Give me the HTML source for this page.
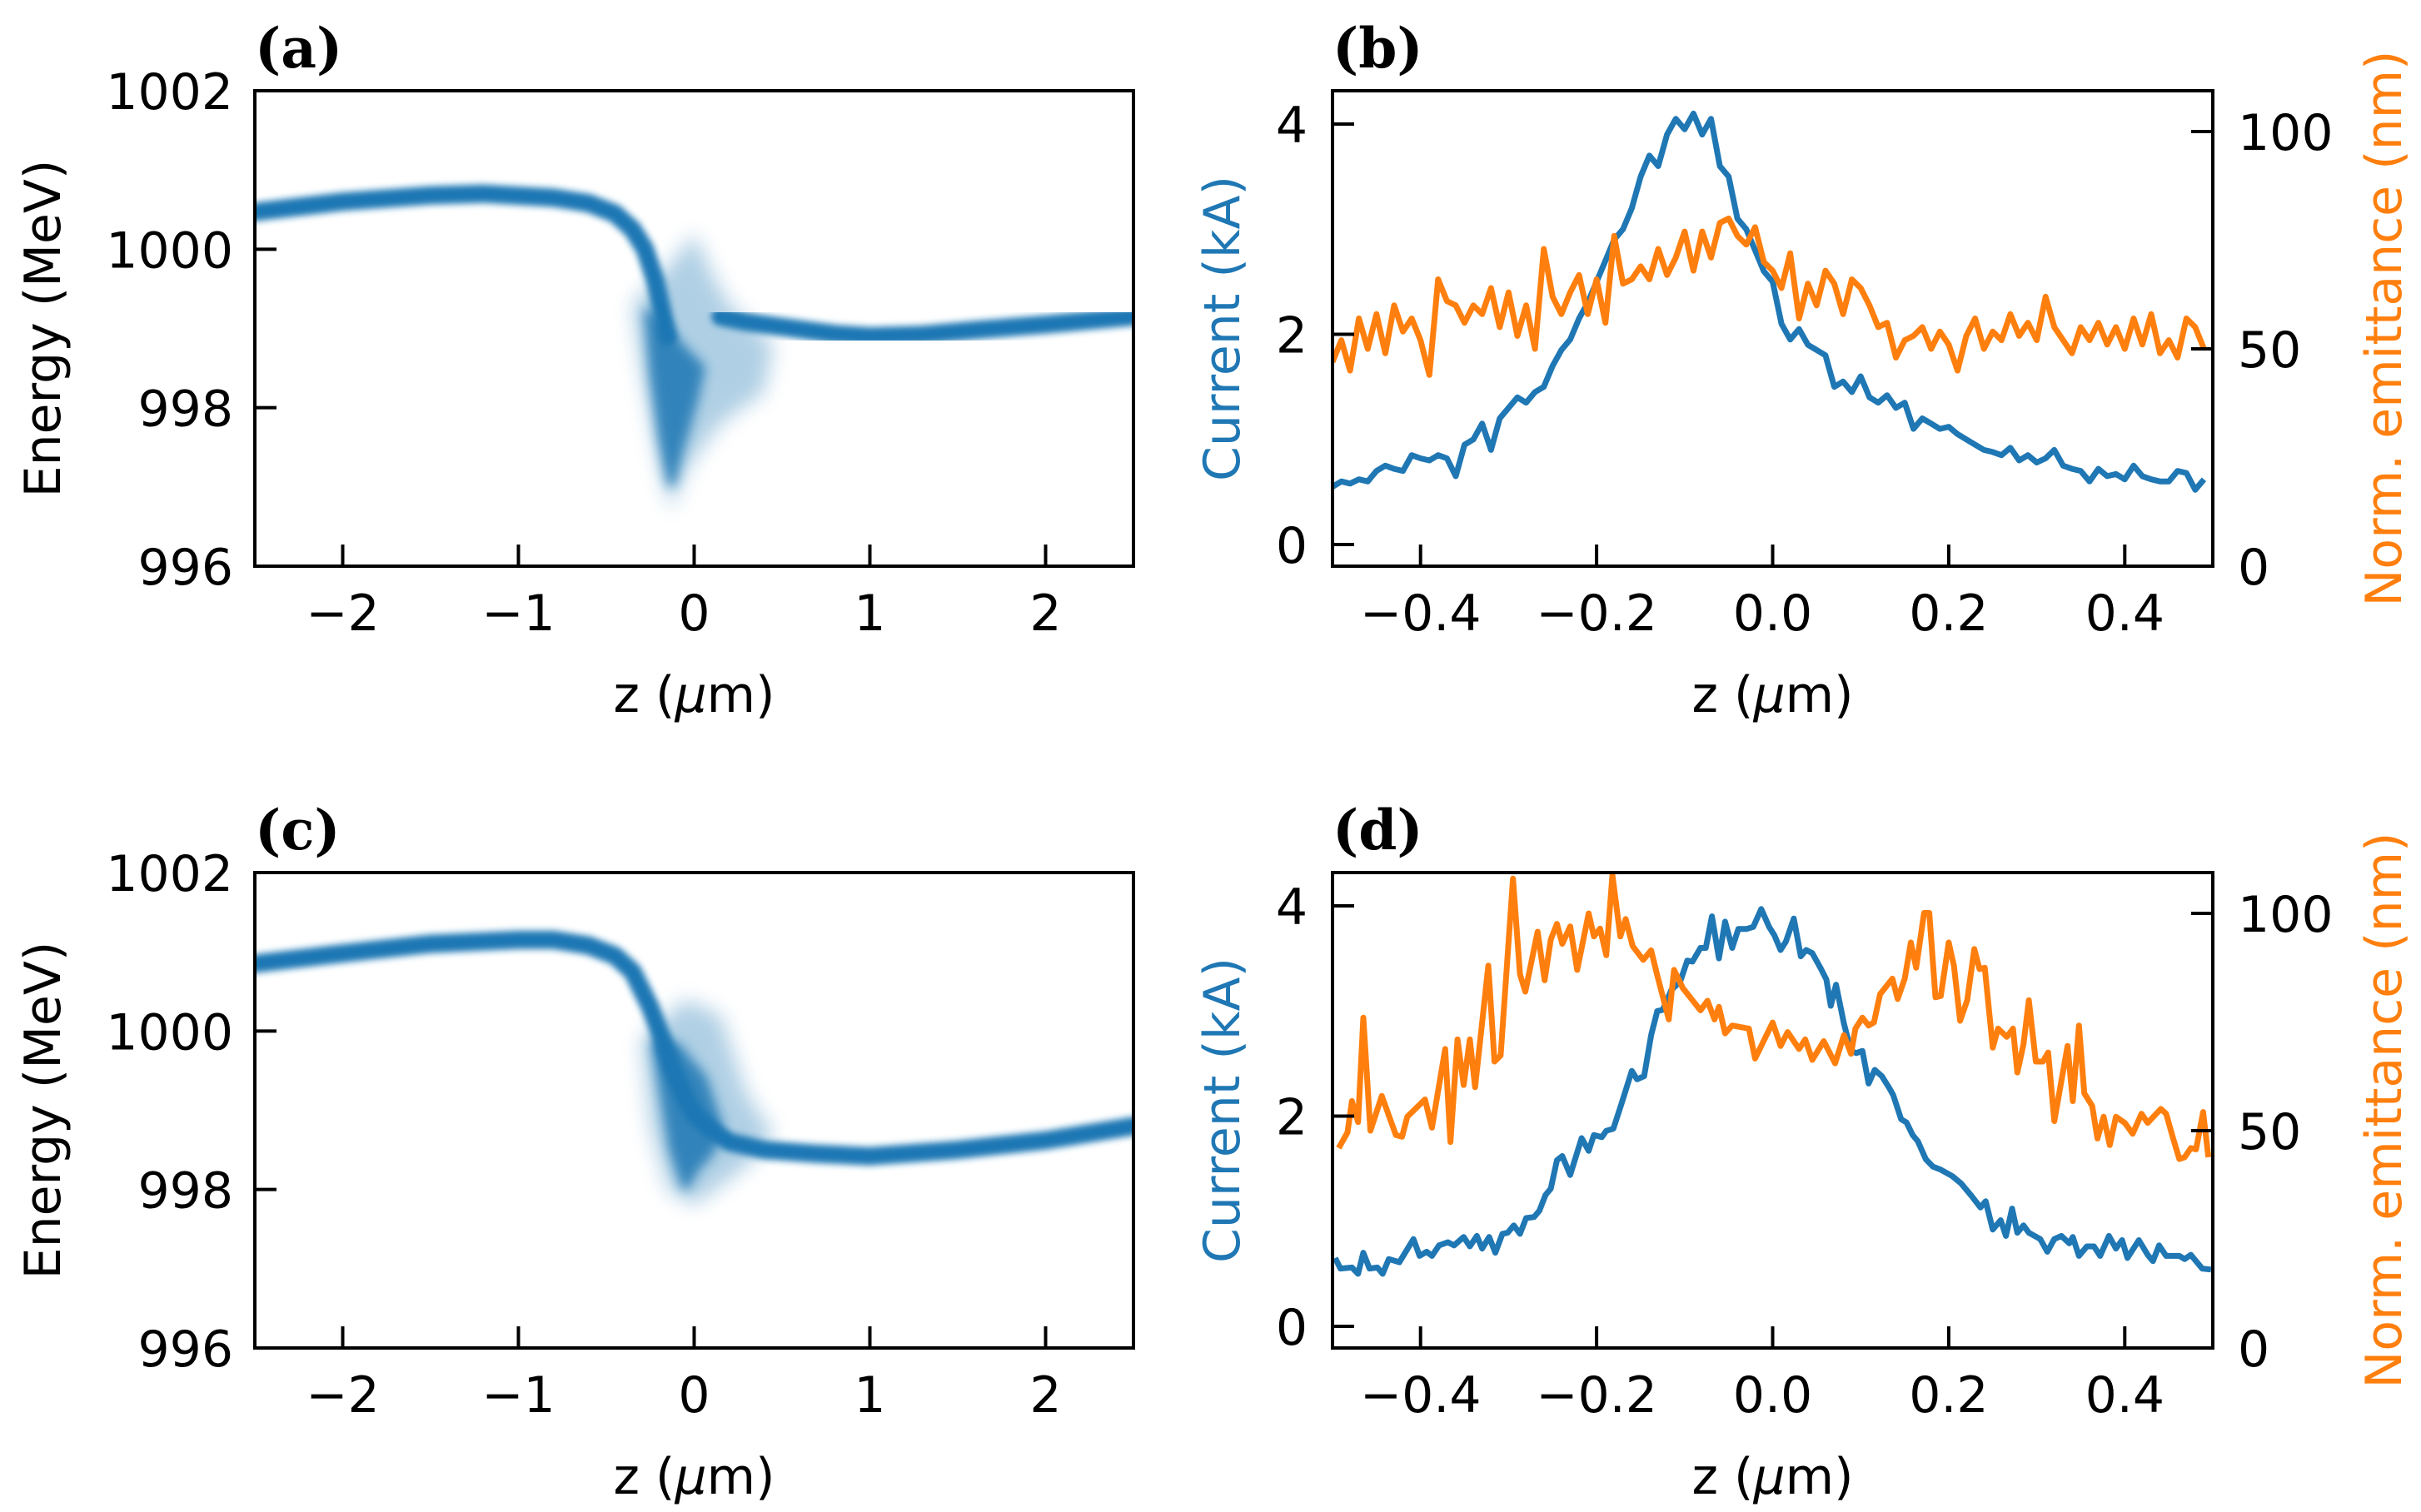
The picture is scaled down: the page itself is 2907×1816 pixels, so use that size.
<!DOCTYPE html>
<html><head><meta charset="utf-8"><style>
html,body{margin:0;padding:0;background:#fff;}
svg{display:block;}
text{font-family:"DejaVu Sans","Liberation Sans",sans-serif;}
</style></head><body>
<svg id="fig" width="2907" height="1816" viewBox="0 0 2907 1816" xmlns="http://www.w3.org/2000/svg">
<defs>
<filter id="blur1" x="-20%" y="-20%" width="140%" height="140%"><feGaussianBlur stdDeviation="4"/></filter>
<filter id="blur3" x="-30%" y="-30%" width="160%" height="160%"><feGaussianBlur stdDeviation="7"/></filter>
<filter id="blur2" x="-30%" y="-30%" width="160%" height="160%"><feGaussianBlur stdDeviation="12"/></filter>
</defs>
</svg>
<script>
// ---------- data ----------
const aBandZ=[-2.5,-2,-1.5,-1.2,-0.8,-0.6,-0.45,-0.35,-0.28,-0.22,-0.18,-0.15];
const aBandE=[1000.47,1000.6,1000.68,1000.7,1000.65,1000.58,1000.45,1000.25,1000.0,999.6,999.2,998.9];
const aBand2Z=[0.15,0.3,0.5,0.8,1.0,1.3,1.6,2.0,2.5];
const aBand2E=[999.15,999.08,999.02,998.93,998.9,998.92,998.98,999.05,999.15];
const aCoreZ=[-0.26,-0.15,-0.05,0.04,0.0,-0.08,-0.13,-0.18,-0.23];
const aCoreE=[999.2,998.95,998.7,998.5,998.1,997.5,997.05,997.6,998.4];
const aCloudZ=[-0.35,-0.1,0.0,0.1,0.2,0.45,0.4,0.15,-0.05,-0.13,-0.2,-0.3];
const aCloudE=[999.3,999.9,1000.2,999.7,999.3,998.8,998.2,997.8,997.2,996.7,997.3,998.5];

const cBandZ=[-2.5,-2,-1.5,-1,-0.8,-0.6,-0.45,-0.35,-0.25,-0.18,-0.12,-0.06,0.0,0.1,0.2,0.4,0.7,1.0,1.5,2.0,2.5];
const cBandE=[1000.85,1000.98,1001.1,1001.15,1001.15,1001.08,1000.95,1000.75,1000.3,999.9,999.5,999.2,998.95,998.75,998.6,998.5,998.45,998.42,998.5,998.62,998.8];
const cCoreZ=[-0.22,-0.1,0.05,0.14,0.1,0.0,-0.05,-0.12,-0.18];
const cCoreE=[999.85,999.8,999.4,998.8,998.5,998.25,998.05,998.5,999.3];
const cCloudZ=[-0.3,-0.05,0.15,0.3,0.45,0.3,0.0,-0.15,-0.25];
const cCloudE=[999.9,1000.4,1000.2,999.2,998.7,998.3,997.8,998.0,998.8];

const bZ=[];for(let i=0;i<100;i++)bZ.push(-0.5+i*0.01);
const bCurrent=[0.55,0.6,0.58,0.62,0.6,0.7,0.75,0.72,0.7,0.85,0.82,0.8,0.85,0.82,0.65,0.95,1.0,1.15,0.9,1.2,1.3,1.4,1.35,1.45,1.5,1.7,1.85,1.95,2.15,2.3,2.5,2.7,2.9,3.0,3.2,3.5,3.7,3.6,3.9,4.05,3.95,4.1,3.9,4.05,3.6,3.5,3.1,3.0,2.8,2.6,2.5,2.1,1.95,2.05,1.9,1.85,1.8,1.5,1.55,1.45,1.6,1.4,1.35,1.42,1.3,1.35,1.1,1.2,1.15,1.1,1.12,1.05,1.0,0.95,0.9,0.88,0.85,0.92,0.8,0.85,0.78,0.82,0.9,0.75,0.72,0.7,0.6,0.72,0.65,0.67,0.62,0.75,0.65,0.62,0.6,0.6,0.7,0.68,0.52,0.62];
const bEmit=[47,52,45,57,50,58,49,60,54,57,52,44,66,61,60,56,60,58,64,55,63,53,60,50,73,62,58,63,67,58,66,56,76,65,66,69,66,73,67,71,77,68,77,71,79,80,76,74,78,70,68,64,72,57,65,60,68,65,58,66,64,60,55,56,48,52,53,55,50,54,51,45,53,57,50,54,52,58,53,56,52,62,55,52,49,55,52,56,51,55,50,57,51,58,49,52,48,57,55,50];

const dCurZ=[-0.497,-0.491,-0.478,-0.471,-0.465,-0.458,-0.449,-0.443,-0.436,-0.424,-0.408,-0.401,-0.393,-0.387,-0.379,-0.369,-0.362,-0.351,-0.344,-0.336,-0.33,-0.322,-0.315,-0.307,-0.301,-0.294,-0.287,-0.28,-0.271,-0.265,-0.258,-0.252,-0.245,-0.239,-0.23,-0.217,-0.209,-0.203,-0.194,-0.189,-0.181,-0.172,-0.16,-0.154,-0.146,-0.138,-0.131,-0.125,-0.115,-0.105,-0.097,-0.091,-0.082,-0.076,-0.069,-0.061,-0.054,-0.046,-0.039,-0.03,-0.022,-0.013,-0.004,0.002,0.009,0.015,0.024,0.032,0.038,0.045,0.055,0.061,0.066,0.072,0.081,0.089,0.095,0.102,0.109,0.116,0.124,0.133,0.137,0.146,0.152,0.159,0.165,0.174,0.182,0.191,0.204,0.214,0.226,0.236,0.242,0.25,0.259,0.265,0.272,0.278,0.285,0.291,0.304,0.312,0.32,0.328,0.337,0.341,0.348,0.357,0.365,0.372,0.382,0.39,0.397,0.403,0.416,0.426,0.432,0.439,0.447,0.462,0.468,0.475,0.488,0.498];
const dCurrent=[0.65,0.55,0.56,0.5,0.70,0.55,0.56,0.5,0.64,0.61,0.83,0.67,0.71,0.67,0.77,0.80,0.77,0.85,0.76,0.86,0.74,0.85,0.70,0.88,0.89,0.96,0.88,1.03,1.04,1.10,1.25,1.31,1.58,1.62,1.44,1.79,1.67,1.82,1.80,1.86,1.88,2.11,2.43,2.35,2.38,2.77,3.0,3.01,3.2,3.28,3.48,3.47,3.6,3.6,3.9,3.5,3.85,3.6,3.78,3.78,3.8,3.97,3.8,3.72,3.58,3.66,3.88,3.52,3.58,3.55,3.4,3.3,3.05,3.25,2.88,2.62,2.6,2.62,2.31,2.44,2.38,2.26,2.2,1.97,1.94,1.82,1.76,1.59,1.52,1.49,1.43,1.36,1.24,1.13,1.19,0.92,1.01,0.86,1.12,0.89,0.96,0.89,0.83,0.71,0.83,0.86,0.79,0.85,0.67,0.76,0.76,0.67,0.86,0.74,0.82,0.65,0.82,0.68,0.62,0.77,0.67,0.67,0.64,0.68,0.55,0.54];
const dEmitZ=[-0.493,-0.483,-0.478,-0.471,-0.465,-0.457,-0.444,-0.428,-0.421,-0.415,-0.395,-0.387,-0.372,-0.366,-0.358,-0.351,-0.344,-0.338,-0.323,-0.316,-0.309,-0.295,-0.287,-0.281,-0.267,-0.259,-0.252,-0.245,-0.239,-0.23,-0.222,-0.209,-0.203,-0.196,-0.189,-0.182,-0.173,-0.167,-0.159,-0.147,-0.138,-0.131,-0.118,-0.112,-0.102,-0.082,-0.074,-0.066,-0.061,-0.054,-0.046,-0.027,-0.02,0.0,0.009,0.017,0.030,0.037,0.045,0.058,0.071,0.081,0.089,0.094,0.102,0.109,0.115,0.122,0.136,0.142,0.150,0.157,0.163,0.172,0.178,0.185,0.191,0.2,0.206,0.213,0.221,0.229,0.235,0.241,0.25,0.256,0.266,0.273,0.278,0.285,0.291,0.299,0.307,0.313,0.32,0.335,0.341,0.348,0.354,0.363,0.369,0.376,0.383,0.39,0.4,0.409,0.419,0.426,0.441,0.447,0.455,0.462,0.468,0.475,0.481,0.489,0.495];
const dEmit=[46,49.6,56.8,52,76,50,58,49,48.6,53.2,57.2,50.7,68.8,47.4,71,60.5,71,60,88,65.9,67.3,108,86,82,95.8,84.6,94,97.6,93,97,87,100,94.7,96.5,90.4,108.8,94.7,98.7,92.5,89.3,91.5,85.7,75.6,87,82.8,77.7,79.9,75.6,78.5,72.4,74.2,73.5,66.6,74.9,69.5,72.7,68.8,71,66.3,70.6,65.5,72,67.7,73.5,76,74.2,74.9,81.4,85,80.3,85,93.3,87.5,100.1,100.1,80.7,81,93.3,87.9,75.3,80,91.8,87.2,87.5,69.1,73.5,71.6,73.5,63.4,69.9,80,65.9,65.9,68,52.2,69.5,56.8,74.2,58.6,55.7,48.2,53.2,46.7,53.2,51.8,49.3,53.9,51.8,55,53.9,48.2,43.5,43.9,46,45.7,54.3,43.9];

const aXTicks=[-2,-1,0,1,2];
const aXTickLabels=["\u22122","\u22121","0","1","2"];
const aYTicks=[996,998,1000,1002];
const bXTicks=[-0.4,-0.2,0,0.2,0.4];
const bXTickLabels=["\u22120.4","\u22120.2","0.0","0.2","0.4"];
const bYTicks=[0,2,4];
const bY2Ticks=[0,50,100];

// ---------- drawing ----------
const NS="http://www.w3.org/2000/svg";
const svg=document.getElementById('fig');
const BLUE="#1f77b4",ORANGE="#ff7f0e";
function mk(tag,attrs,parent){const e=document.createElementNS(NS,tag);for(const k in attrs)e.setAttribute(k,attrs[k]);(parent||svg).appendChild(e);return e;}
function txt(s,x,y,size,anchor,fill,parent,rot,weight,family){
  const t=mk('text',{x:x,y:y,'font-size':size,'text-anchor':anchor,fill:fill||'#000'},parent);
  if(rot)t.setAttribute('transform','rotate('+rot+' '+x+' '+y+')');
  if(weight)t.setAttribute('font-weight',weight);
  if(family)t.setAttribute('style','font-family:'+family);
  t.textContent=s;return t;}
function zlabel(x,y,parent){
  const t=mk('text',{x:x,y:y,'font-size':60,'text-anchor':'middle',fill:'#000'},parent);
  t.appendChild(document.createTextNode('z ('));
  const s=mk('tspan',{'font-style':'italic'},t);s.textContent='\u03bc';
  t.appendChild(document.createTextNode('m)'));
  return t;}
function lin(d0,d1,r0,r1){return v=>r0+(v-d0)/(d1-d0)*(r1-r0);}
function pts(xs,ys,X,Y){return xs.map((v,i)=>X(v).toFixed(1)+','+Y(ys[i]).toFixed(1)).join(' ');}

function scatterPanel(name,top,bandSets,coreZ,coreE,cloudZ,cloudE,letter){
  const L=306,R=1361,T=top,B=top+571;
  const X=lin(-2.5,2.5,L,R),Y=lin(996,1002,B,T);
  const g=mk('g',{},svg);
  
  
  const clip=mk('clipPath',{id:'clip'+letter},svg);
  mk('rect',{x:L,y:T,width:R-L,height:B-T},clip);
  const dg=mk('g',{'clip-path':'url(#clip'+letter+')'},g);
  const cl=mk('polygon',{points:pts(cloudZ,cloudE,X,Y),fill:BLUE,opacity:0.35,filter:'url(#blur2)'},dg);
  
  
  bandSets.forEach(bs=>{
    const p=mk('polyline',{points:pts(bs[0],bs[1],X,Y),fill:'none',stroke:BLUE,'stroke-width':22,'stroke-linejoin':'round','stroke-linecap':'round',filter:'url(#blur1)'},dg);
    
    
  });
  const co=mk('polygon',{points:pts(coreZ,coreE,X,Y),fill:BLUE,opacity:0.85,filter:'url(#blur3)','stroke':BLUE,'stroke-width':10,'stroke-linejoin':'round'},dg);
  
  
  mk('rect',{x:L,y:T,width:R-L,height:B-T,fill:'none',stroke:'#000','stroke-width':4},g);
  aXTicks.forEach((v,i)=>{mk('line',{x1:X(v),x2:X(v),y1:B,y2:B-26,stroke:'#000','stroke-width':4},g);
    const t=txt(aXTickLabels[i],X(v),B+77,60,'middle','#000',g);
    });
  aYTicks.forEach(v=>{mk('line',{x1:L,x2:L+26,y1:Y(v),y2:Y(v),stroke:'#000','stroke-width':4},g);
    const t=txt(String(v),L-26,Y(v)+22,60,'end','#000',g);
    });
  const xl=zlabel((L+R)/2,B+175,g);
  
  const yl=txt('Energy (MeV)',72,(T+B)/2,60,'middle','#000',g,-90);
  
  const pl=txt('('+letter+')',306,T-28,66,'start','#000',g,0,'bold','"DejaVu Serif",serif');
  
}

function linePanel(name,top,curZ,cur,emitZ,emit,letter){
  const L=1600,R=2657,T=top,B=top+571;
  const X=lin(-0.5,0.5,L,R),Y=lin(-0.206,4.317,B,T),Y2=lin(0,109.4,B,T);
  const g=mk('g',{},svg);
  
  
  const clip=mk('clipPath',{id:'clip'+letter},svg);
  mk('rect',{x:L,y:T,width:R-L,height:B-T},clip);
  const dg=mk('g',{'clip-path':'url(#clip'+letter+')'},g);
  const pc=mk('polyline',{points:pts(curZ,cur,X,Y),fill:'none',stroke:BLUE,'stroke-width':7,'stroke-linejoin':'round'},dg);
  
  
  const pe=mk('polyline',{points:pts(emitZ,emit,X,Y2),fill:'none',stroke:ORANGE,'stroke-width':7,'stroke-linejoin':'round'},dg);
  
  
  mk('rect',{x:L,y:T,width:R-L,height:B-T,fill:'none',stroke:'#000','stroke-width':4},g);
  bXTicks.forEach((v,i)=>{mk('line',{x1:X(v),x2:X(v),y1:B,y2:B-26,stroke:'#000','stroke-width':4},g);
    const t=txt(bXTickLabels[i],X(v),B+77,60,'middle','#000',g);
    });
  bYTicks.forEach(v=>{mk('line',{x1:L,x2:L+26,y1:Y(v),y2:Y(v),stroke:'#000','stroke-width':4},g);
    const t=txt(String(v),L-30,Y(v)+22,60,'end','#000',g);
    });
  bY2Ticks.forEach(v=>{mk('line',{x1:R,x2:R-26,y1:Y2(v),y2:Y2(v),stroke:'#000','stroke-width':4},g);
    const t=txt(String(v),R+30,Y2(v)+22,60,'start','#000',g);
    });
  const xl=zlabel((L+R)/2,B+175,g);
  
  const yl=txt('Current (kA)',1488,(T+B)/2,60,'middle',BLUE,g,-90);
  
  const y2=txt('Norm. emittance (nm)',2883,(T+B)/2,60,'middle',ORANGE,g,-90);
  
  const pl=txt('('+letter+')',1600,T-28,66,'start','#000',g,0,'bold','"DejaVu Serif",serif');
  
}

scatterPanel('panel-a',109,[[aBandZ,aBandE],[aBand2Z,aBand2E]],aCoreZ,aCoreE,aCloudZ,aCloudE,'a');
linePanel('panel-b',109,bZ,bCurrent,bZ,bEmit,'b');
scatterPanel('panel-c',1048,[[cBandZ,cBandE]],cCoreZ,cCoreE,cCloudZ,cCloudE,'c');
linePanel('panel-d',1048,dCurZ,dCurrent,dEmitZ,dEmit,'d');
</script>
</body></html>
